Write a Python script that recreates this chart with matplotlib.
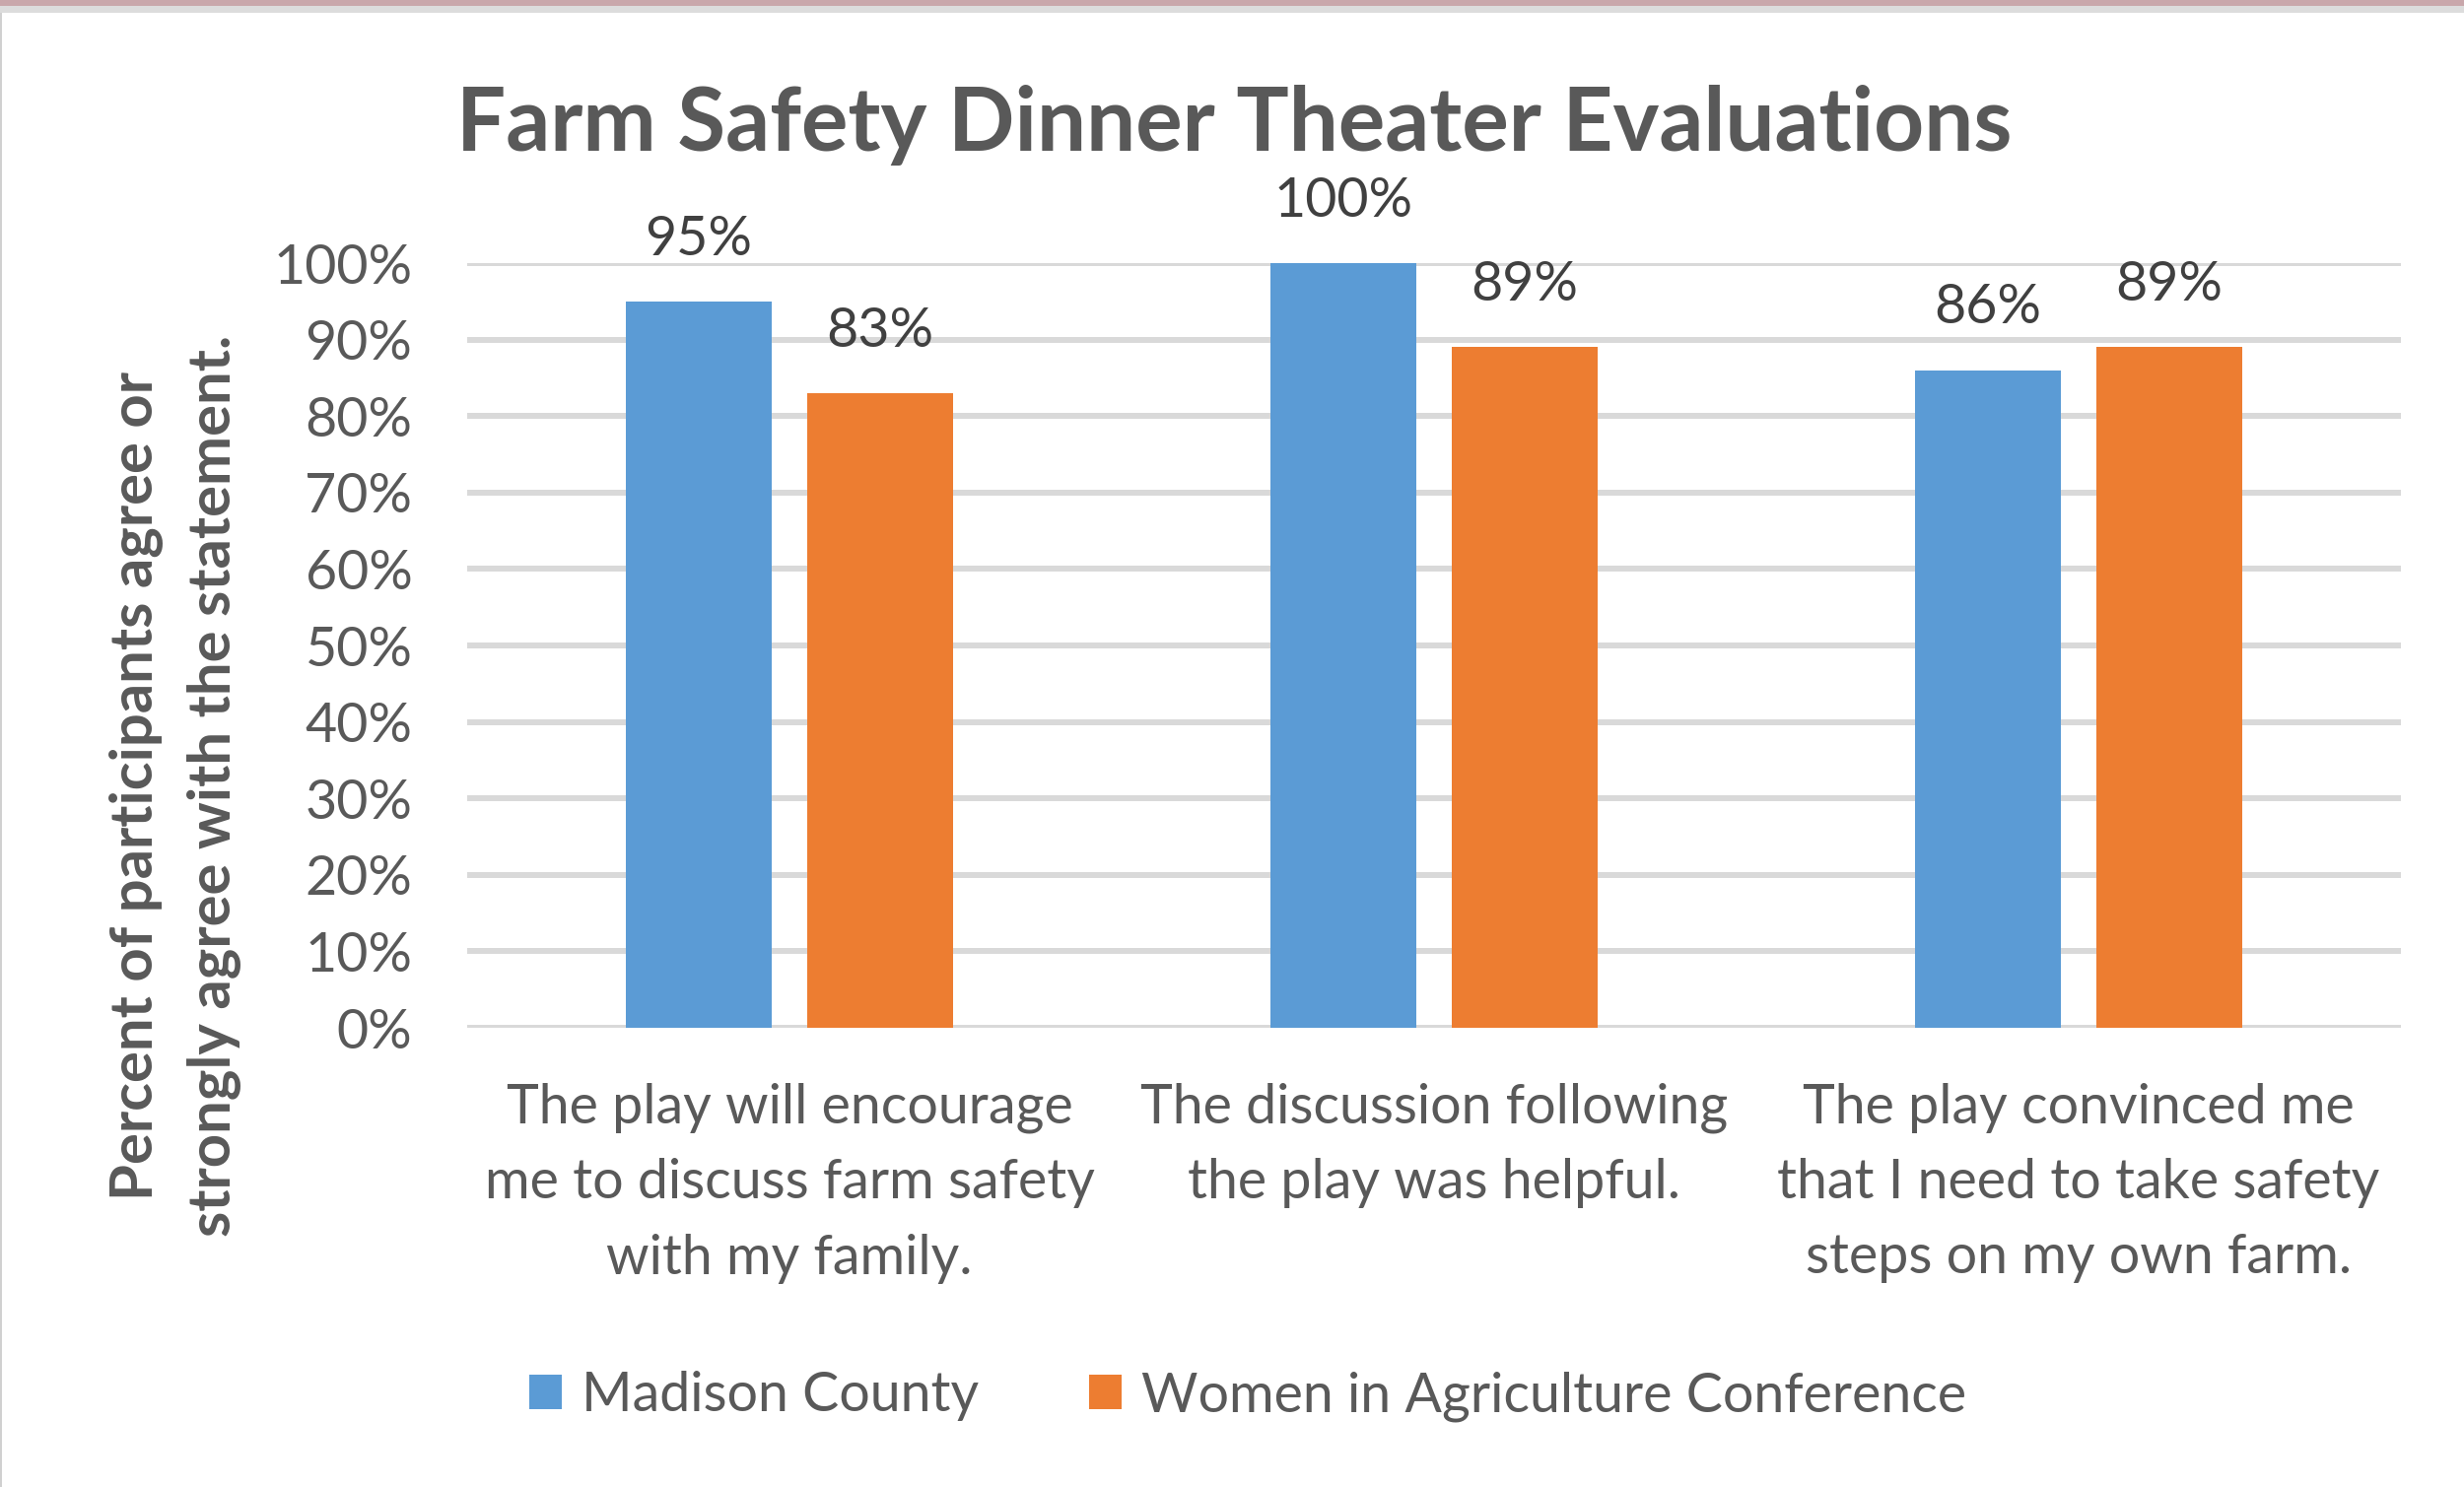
import matplotlib
matplotlib.use("Agg")
import matplotlib.pyplot as plt
import numpy as np
from matplotlib.patches import Rectangle

plt.rcParams['font.family'] = ['Lato', 'DejaVu Sans']

title = "Farm Safety Dinner Theater Evaluations"
ylabel = "Percent of participants agree or\nstrongly agree with the statement."
categories = [
    "The play will encourage\nme to discuss farm safety\nwith my family.",
    "The discussion following\nthe play was helpful.",
    "The play convinced me\nthat I need to take safety\nsteps on my own farm.",
]
series_names = ["Madison County", "Women in Agriculture Conference"]
madison = [95, 100, 86]
women_ag = [83, 89, 89]
yticks = [0, 10, 20, 30, 40, 50, 60, 70, 80, 90, 100]
ytick_labels = [f"{v}%" for v in yticks]

blue = "#5B9BD5"
orange = "#ED7D31"
text_col = "#595959"
grid_col = "#D9D9D9"
fs = 40

W, H = 2500, 1509
fig = plt.figure(figsize=(W / 100, H / 100), dpi=100)
fig.patch.set_facecolor("white")

# screenshot frame artifacts
fig.add_artist(Rectangle((0, 1 - 6 / H), 1, 6 / H, transform=fig.transFigure,
                         facecolor="#C9A7AB", edgecolor="none"))
fig.add_artist(Rectangle((0, 1 - 13 / H), 1, 7 / H, transform=fig.transFigure,
                         facecolor="#DCDCDC", edgecolor="none"))
fig.add_artist(Rectangle((0, 0), 2 / W, 1 - 13 / H, transform=fig.transFigure,
                         facecolor="#D0D0D0", edgecolor="none"))

ax = fig.add_axes([474 / W, 1 - 1043 / H, (2436 - 474) / W, (1043 - 267) / H])

x = np.arange(len(categories))
bw = 0.226
off = 0.141
b1 = ax.bar(x - off, madison, bw, color=blue, label=series_names[0], zorder=3)
b2 = ax.bar(x + off, women_ag, bw, color=orange, label=series_names[1], zorder=3)

for bars, vals in ((b1, madison), (b2, women_ag)):
    for rect, v in zip(bars, vals):
        ax.annotate(f"{v}%", (rect.get_x() + rect.get_width() / 2, v),
                    xytext=(0, 34), textcoords="offset points",
                    ha="center", va="baseline", fontsize=fs, color="#404040")

ax.set_xlim(-0.5, len(categories) - 0.5)
ax.set_ylim(0, 100)
ax.set_yticks(yticks)
ax.set_yticklabels(ytick_labels)
ax.set_xticks(x)
ax.set_xticklabels(categories, linespacing=1.62)
ax.tick_params(axis="both", length=0, labelsize=fs, labelcolor=text_col)
ax.tick_params(axis="y", pad=40)
ax.tick_params(axis="x", pad=40)
ax.yaxis.grid(True, color=grid_col, linewidth=4.3, zorder=0)
ax.set_axisbelow(True)
for s in ax.spines.values():
    s.set_visible(False)

fig.text(1252 / W, 1 - 127 / H, title, ha="center", va="center",
         fontsize=64, fontweight="bold", color=text_col)
fig.text(178 / W, 1 - 797 / H, ylabel, ha="center", va="center", rotation=90,
         fontsize=43, fontweight="bold", color=text_col, linespacing=1.55,
         multialignment="center")

leg = fig.legend(handles=[b1, b2], labels=series_names, loc="center",
                 bbox_to_anchor=(1266 / W, 1 - 1417 / H), ncol=2, frameon=False,
                 fontsize=fs, handlelength=0.6, handleheight=0.6,
                 handletextpad=0.36, columnspacing=2.0)
for t in leg.get_texts():
    t.set_color(text_col)

fig.savefig("out.png", dpi=100, facecolor="white")
